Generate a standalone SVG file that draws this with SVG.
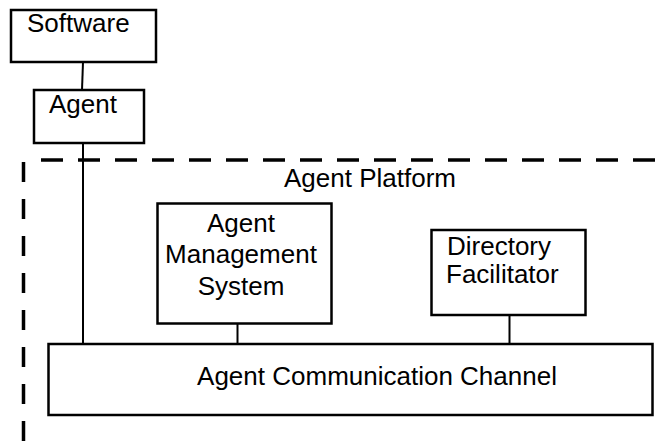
<svg xmlns="http://www.w3.org/2000/svg" width="670" height="445" viewBox="0 0 670 445">
<style>
.box{fill:#fff;stroke:#000;stroke-width:2.5}
.t{font-family:"Liberation Sans",Arial,sans-serif;font-size:26px;fill:#000}
.c{stroke:#000;stroke-width:2;fill:none}
.dash{stroke:#000;stroke-width:3.5;fill:none}
</style>
<rect width="670" height="445" fill="#fff"/>
<g id="platform">
<path class="dash" d="M41 160H670" stroke-dasharray="22 15"/>
<path class="dash" d="M23.5 162V445" stroke-dasharray="20 17"/>
<text class="t" x="370" y="187" text-anchor="middle">Agent Platform</text>
</g>
<g id="connectors">
<path class="c" d="M83 62L82 90"/>
<path class="c" d="M83 143V344"/>
<path class="c" d="M237.5 323V344"/>
<path class="c" d="M509.5 315V344"/>
</g>
<g id="software">
<rect class="box" x="11" y="10" width="145" height="52"/>
<text class="t" x="27" y="32">Software</text>
</g>
<g id="agent">
<rect class="box" x="34" y="90" width="110" height="53"/>
<text class="t" x="49" y="113">Agent</text>
</g>
<g id="ams">
<rect class="box" x="157.5" y="203.5" width="174" height="120"/>
<text class="t" x="241" y="232" text-anchor="middle">Agent</text>
<text class="t" x="241" y="263" text-anchor="middle">Management</text>
<text class="t" x="241" y="295" text-anchor="middle">System</text>
</g>
<g id="df">
<rect class="box" x="431.5" y="230" width="154" height="85"/>
<text class="t" x="447" y="255">Directory</text>
<text class="t" x="446" y="283">Facilitator</text>
</g>
<g id="acc">
<rect class="box" x="48.5" y="344" width="604" height="71"/>
<text class="t" x="377" y="385" text-anchor="middle">Agent Communication Channel</text>
</g>
</svg>
